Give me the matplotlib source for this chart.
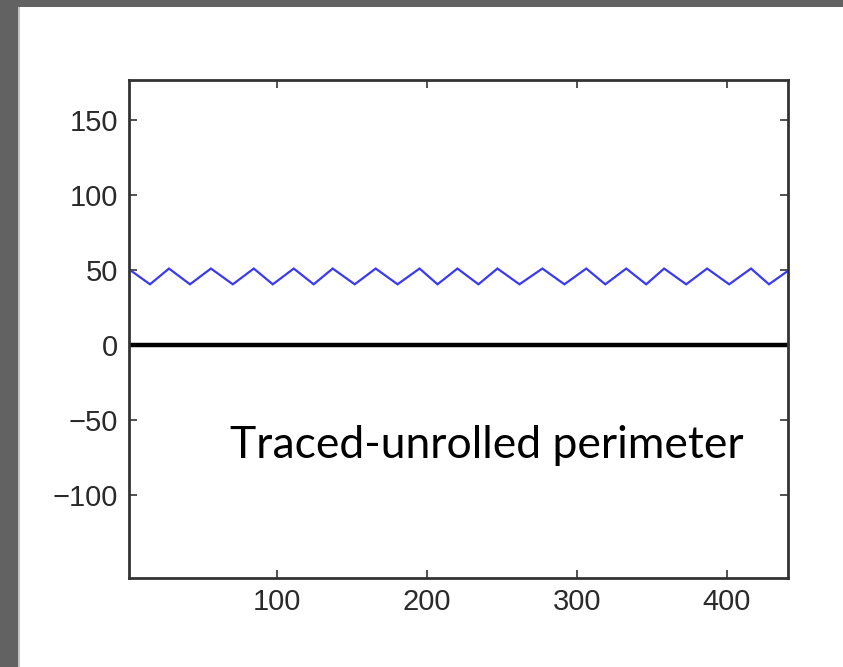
import matplotlib
matplotlib.use("Agg")
import matplotlib.pyplot as plt
from matplotlib.patches import Rectangle

# Vertices of the traced-unrolled perimeter (zigzag)
perim_x = [1, 15, 27.7, 41.7, 55.7, 70.3, 84.3, 97, 111, 124.3, 137, 151.7, 165.7,
           180.3, 195, 207, 220.3, 234.3, 247, 261.7, 277, 291.7, 306.3, 319, 333,
           346.3, 358.3, 373, 387, 401.7, 416.3, 428.3, 441]
perim_y = [50.5, 40.5, 51, 40.5, 51, 40.5, 51, 40.5, 51, 40.5, 51, 40.5, 51,
           40.5, 51, 40.5, 51, 40.5, 51, 40.5, 51, 40.5, 51, 40.5, 51,
           40.5, 51, 40.5, 51, 40.5, 51, 40.5, 49.5]

# Zero reference line
zero_x = [1, 441]
zero_y = [0, 0]

xticks = [100, 200, 300, 400]
yticks = [-100, -50, 0, 50, 100, 150]
xlim = (1, 441)
ylim = (-155.3, 176.7)

W, H = 843, 667
fig = plt.figure(figsize=(W / 100, H / 100), dpi=100)
fig.patch.set_facecolor("white")

# Gray slide frame (top and left bands)
fig.patches.append(Rectangle((0, 1 - 7 / H), 1, 7 / H, transform=fig.transFigure,
                             facecolor="#626262", edgecolor="none", zorder=0))
fig.patches.append(Rectangle((0, 0), 18 / W, 1, transform=fig.transFigure,
                             facecolor="#626262", edgecolor="none", zorder=0))
fig.patches.append(Rectangle((18 / W, 0), 2 / W, 1 - 7 / H, transform=fig.transFigure,
                             facecolor="#c4c4c4", edgecolor="none", zorder=0))

ax = fig.add_axes([129 / W, 1 - 578 / H, (788 - 129) / W, (578 - 80) / H])
ax.plot(perim_x, perim_y, color="#3a3af2", lw=1.6, solid_joinstyle="miter")
ax.plot(zero_x, zero_y, color="black", lw=3.2, solid_capstyle="butt")

ax.set_xlim(*xlim)
ax.set_ylim(*ylim)
ax.set_xticks(xticks)
ax.set_yticks(yticks)
ax.tick_params(direction="in", length=6, width=1.2, color="#333333",
               top=True, right=True, labelsize=21, labelcolor="#2a2a2a")
ax.tick_params(axis="y", pad=8)
ax.tick_params(axis="x", pad=7)
for lab in ax.get_xticklabels() + ax.get_yticklabels():
    lab.set_family("Liberation Sans")
for sp in ax.spines.values():
    sp.set_color("#333333")
    sp.set_linewidth(2)

ax.text(0.543, 0.267, "Traced-unrolled perimeter", transform=ax.transAxes,
        ha="center", va="center", fontsize=32, family="Lato", color="black")

fig.savefig("out.png", dpi=100)
